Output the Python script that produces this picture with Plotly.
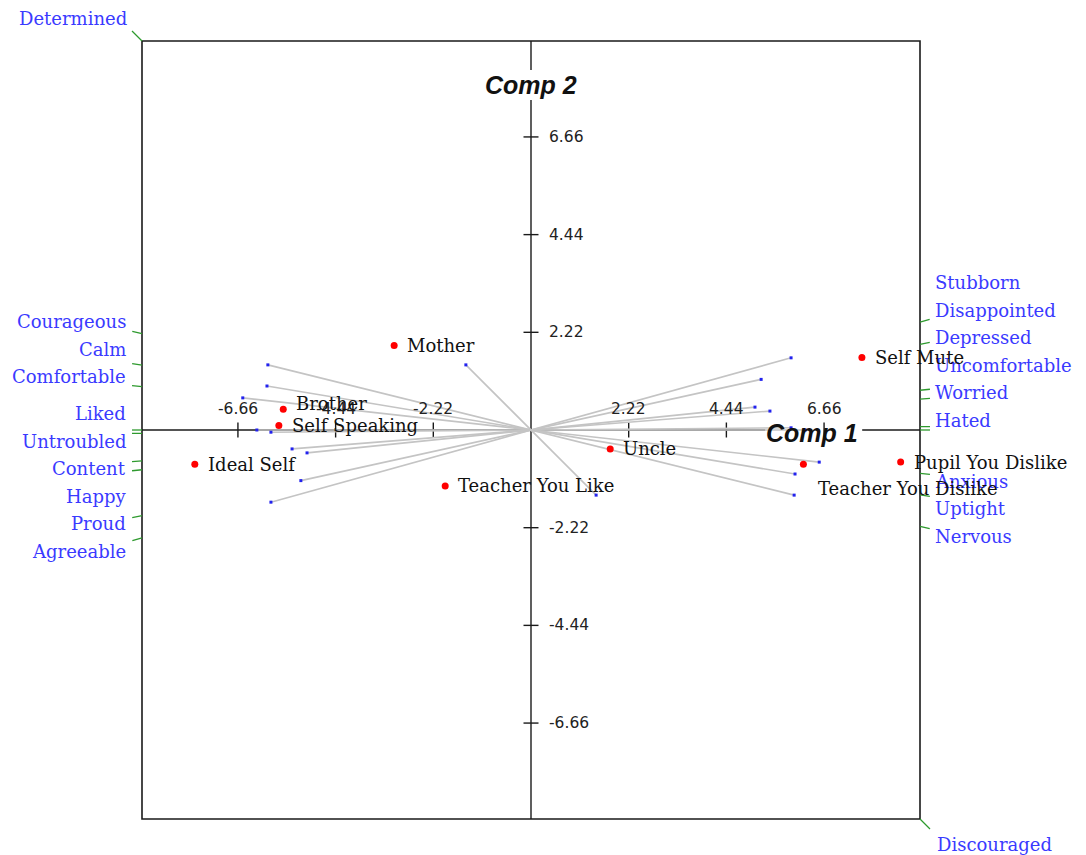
import numpy as np
import plotly.graph_objects as go

# ---------------- data ----------------
elements = ["Mother", "Brother", "Self Speaking", "Ideal Self", "Teacher You Like",
            "Uncle", "Self Mute", "Teacher You Dislike", "Pupil You Dislike"]
element_x = [-3.11, -5.63, -5.73, -7.64, -1.95, 1.80, 7.52, 6.19, 8.40]
element_y = [1.92, 0.47, 0.10, -0.78, -1.27, -0.43, 1.65, -0.78, -0.73]

left_poles = ["Determined", "Courageous", "Calm", "Comfortable", "Liked", "Untroubled",
              "Content", "Happy", "Proud", "Agreeable"]
right_poles = ["Discouraged", "Nervous", "Uptight", "Anxious", "Hated", "Worried",
               "Uncomfortable", "Depressed", "Disappointed", "Stubborn"]
# construct loading vectors (end pointing to the left pole)
construct_x = [-1.48, -5.98, -6.00, -6.55, -6.23, -5.91, -5.43, -5.09, -5.23, -5.91]
construct_y = [1.48, 1.48, 1.00, 0.73, 0.00, -0.05, -0.43, -0.52, -1.15, -1.64]

tick_values = [-6.66, -4.44, -2.22, 2.22, 4.44, 6.66]
tick_labels = ["-6.66", "-4.44", "-2.22", "2.22", "4.44", "6.66"]
axis_titles = ["Comp 1", "Comp 2"]

# ---------------- layout geometry ----------------
W, H = 1086, 855
R = 8.84                      # half extent of the square frame (data units)
BOX_L, BOX_T, BOX_SIZE = 142, 41, 778
PX = BOX_SIZE / (2 * R)       # pixels per data unit
x_range = [-R - BOX_L / PX, R + (W - BOX_L - BOX_SIZE) / PX]
y_range = [-R - (H - BOX_T - BOX_SIZE) / PX, R + BOX_T / PX]

LABEL_FONT = "DejaVu Serif"
LABEL_SIZE = 18
BLUE = "#3a3aff"
GREEN = "#2e9a2e"
GRAY = "#c4c4c4"

fig = go.Figure()
shapes = []
annotations = []

def px(v):
    return v / PX

# frame
shapes.append(dict(type="rect", xref="x", yref="y", x0=-R, x1=R, y0=-R, y1=R,
                   line=dict(color="#1a1a1a", width=1.6), layer="below"))
# axes with gaps for the titles
c1_x, c1_y = 6.39, -0.07
c2_x, c2_y = 0.0, 7.84
for (x0, y0, x1, y1) in [(-R, 0, c1_x - px(47), 0), (c1_x + px(50), 0, R, 0),
                         (0, -R, 0, c2_y - px(15)), (0, c2_y + px(15), 0, R)]:
    shapes.append(dict(type="line", xref="x", yref="y", x0=x0, y0=y0, x1=x1, y1=y1,
                       line=dict(color="#1a1a1a", width=1.4), layer="below"))
for t, lab in zip(tick_values, tick_labels):
    shapes.append(dict(type="line", xref="x", yref="y", x0=t, x1=t, y0=-px(7.5), y1=px(7.5),
                       line=dict(color="#1a1a1a", width=1.4), layer="below"))
    shapes.append(dict(type="line", xref="x", yref="y", x0=-px(7.5), x1=px(7.5), y0=t, y1=t,
                       line=dict(color="#1a1a1a", width=1.4), layer="below"))
    annotations.append(dict(x=t, y=0, xref="x", yref="y", text=lab, showarrow=False,
                            yshift=21, xanchor="center", yanchor="middle",
                            font=dict(family="DejaVu Sans", size=15.5, color="#222")))
    annotations.append(dict(x=0, y=t, xref="x", yref="y", text=lab, showarrow=False,
                            xshift=16, xanchor="left", yanchor="middle",
                            font=dict(family="DejaVu Sans", size=15.5, color="#222")))

for (tx, ty, txt) in [(c1_x, c1_y, axis_titles[0]), (c2_x, c2_y, axis_titles[1])]:
    annotations.append(dict(x=tx, y=ty, xref="x", yref="y", text="<b><i>%s</i></b>" % txt,
                            showarrow=False, xanchor="center", yanchor="middle",
                            font=dict(family="Liberation Sans", size=25, color="#111")))

# construct vectors (gray lines through origin, blue end dots)
cx = np.array(construct_x)
cy = np.array(construct_y)
lx, ly = [], []
for vx, vy in zip(cx, cy):
    lx += [vx, -vx, None]
    ly += [vy, -vy, None]
fig.add_trace(go.Scatter(x=lx, y=ly, mode="lines", line=dict(color=GRAY, width=1.6),
                         hoverinfo="skip", showlegend=False))
fig.add_trace(go.Scatter(x=np.concatenate([cx, -cx]), y=np.concatenate([cy, -cy]),
                         mode="markers", marker=dict(color="#2222ee", size=3, symbol="square"),
                         hoverinfo="skip", showlegend=False))

# edge marks and pole labels
GAP, UP, DOWN, TICK = px(27.5), px(10), px(8), px(10)
gx, gy = [], []
side_items = {"left": [], "right": []}
for i in range(len(cx)):
    for sign, name, side in [(1, left_poles[i], "left"), (-1, right_poles[i], "right")]:
        vx, vy = sign * cx[i], sign * cy[i]
        s = R / max(abs(vx), abs(vy))
        ex, ey = vx * s, vy * s
        n = np.hypot(vx, vy)
        tx, ty = ex + TICK * vx / n, ey + TICK * vy / n
        if abs(vy) >= abs(vx):
            tx, ty = ex + TICK * np.sign(vx), ey + TICK * np.sign(vy)
        gx += [ex, tx, None]
        gy += [ey, ty, None]
        if abs(vy) >= abs(vx):
            # corner / top-bottom pole
            annotations.append(dict(x=tx, y=ty, xref="x", yref="y", text=name, showarrow=False,
                                    xanchor="right" if vx < 0 else "left",
                                    yanchor="bottom" if vy > 0 else "top",
                                    xshift=-3 if vx < 0 else 5, yshift=0 if vy > 0 else -3,
                                    font=dict(family=LABEL_FONT, size=LABEL_SIZE, color=BLUE)))
        else:
            side_items[side].append((name, ey))

for side, items in side_items.items():
    upper = sorted([it for it in items if it[1] >= 0], key=lambda t: t[1])
    lower = sorted([it for it in items if it[1] < 0], key=lambda t: -t[1])
    lower_pos = []
    prev = None
    for name, ey in lower:
        y = ey - DOWN if prev is None else min(ey - DOWN, prev - GAP)
        lower_pos.append((name, y))
        prev = y
    upper_pos = []
    prev = lower_pos[0][1] if lower_pos else None
    for name, ey in upper:
        y = ey + UP if prev is None else max(ey + UP, prev + GAP)
        upper_pos.append((name, y))
        prev = y
    for name, y in upper_pos + lower_pos:
        annotations.append(dict(x=-R if side == "left" else R, y=y, xref="x", yref="y",
                                text=name, showarrow=False,
                                xanchor="right" if side == "left" else "left",
                                yanchor="middle", xshift=-14 if side == "left" else 13,
                                font=dict(family=LABEL_FONT, size=LABEL_SIZE, color=BLUE)))

fig.add_trace(go.Scatter(x=gx, y=gy, mode="lines", line=dict(color=GREEN, width=1.3),
                         hoverinfo="skip", showlegend=False))

# elements
fig.add_trace(go.Scatter(x=element_x, y=element_y, mode="markers",
                         marker=dict(color="#ff0000", size=7), hoverinfo="skip",
                         showlegend=False))
nudge = {"Brother": (0, 6), "Teacher You Dislike": (2, -24)}
for name, x, y in zip(elements, element_x, element_y):
    dx, dy = nudge.get(name, (0, 0))
    annotations.append(dict(x=x, y=y, xref="x", yref="y", text=name, showarrow=False,
                            xanchor="left", yanchor="middle", xshift=11 + dx, yshift=dy,
                            font=dict(family=LABEL_FONT, size=LABEL_SIZE, color="#111")))

fig.update_layout(
    width=W, height=H, autosize=False,
    margin=dict(l=0, r=0, t=0, b=0, pad=0),
    paper_bgcolor="white", plot_bgcolor="white",
    xaxis=dict(range=x_range, visible=False, fixedrange=True),
    yaxis=dict(range=y_range, visible=False, fixedrange=True),
    shapes=shapes, annotations=annotations, showlegend=False,
)
fig.write_html("out.html", config={"displayModeBar": False},
               post_script="document.body.style.margin='0px';document.body.style.overflow='hidden';")
